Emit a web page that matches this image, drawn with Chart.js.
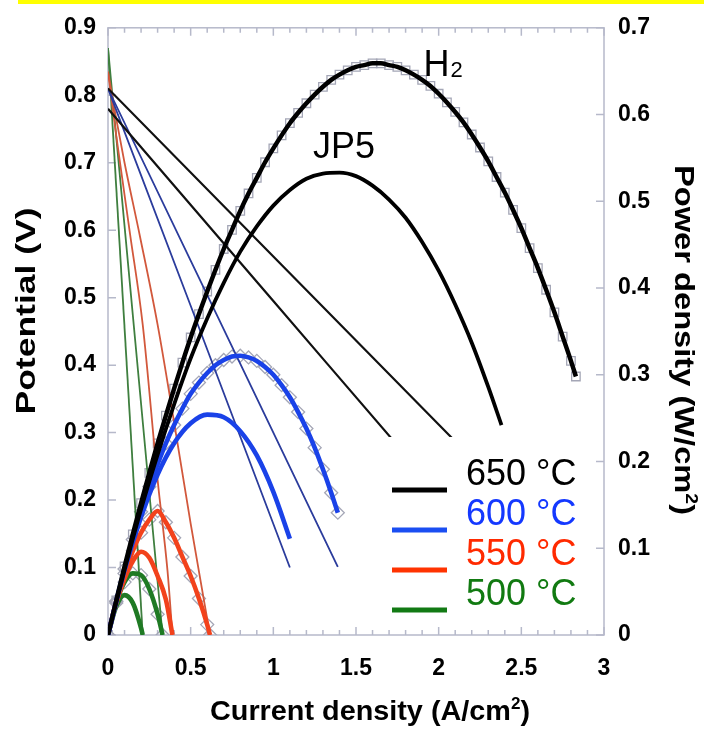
<!DOCTYPE html>
<html><head><meta charset="utf-8">
<script src="https://cdn.jsdelivr.net/npm/chart.js@4/dist/chart.umd.min.js"></script>
<style>html,body{margin:0;padding:0;background:#fff;}canvas{display:block;}</style>
</head><body>
<canvas id="c" width="704" height="729"></canvas>
<script>
// ---------- categories ----------
const temps = ['650 °C', '600 °C', '550 °C', '500 °C'];
const fuels = ['H2', 'JP5'];

// ---------- 650 °C ----------
const curH2_650 = [0,0.05,0.1,0.15,0.2,0.25,0.3,0.35,0.4,0.45,0.5,0.55,0.6,0.65,0.7,0.75,0.8,0.85,0.9,0.95,1,1.05,1.1,1.15,1.2,1.25,1.3,1.35,1.4,1.45,1.5,1.55,1.6,1.65,1.7,1.75,1.8,1.85,1.9,1.95,2,2.05,2.1,2.15,2.2,2.25,2.3,2.35,2.4,2.45,2.5,2.55,2.6,2.65,2.7,2.75,2.8,2.83];
const powH2_650 = [0,0.040,0.079,0.116,0.152,0.187,0.221,0.253,0.284,0.314,0.343,0.370,0.396,0.421,0.445,0.467,0.489,0.509,0.527,0.545,0.561,0.576,0.590,0.602,0.613,0.623,0.632,0.640,0.646,0.651,0.655,0.657,0.659,0.659,0.657,0.655,0.651,0.646,0.640,0.633,0.624,0.614,0.603,0.591,0.577,0.562,0.546,0.528,0.510,0.490,0.469,0.446,0.423,0.398,0.372,0.344,0.316,0.298];
const vcurH2_650 = [0, 1, 2, 2.83];
const potH2_650 = [0.81, 0.561, 0.312, 0.105];

const curJP5_650 = [0,0.1,0.2,0.3,0.4,0.5,0.6,0.7,0.8,0.9,1,1.1,1.2,1.3,1.4,1.5,1.6,1.7,1.8,1.9,2,2.1,2.2,2.3,2.38];
const powJP5_650 = [0,0.075,0.145,0.208,0.266,0.319,0.365,0.406,0.442,0.471,0.495,0.513,0.526,0.532,0.533,0.529,0.518,0.502,0.481,0.453,0.420,0.381,0.337,0.286,0.242];
const vcurJP5_650 = [0, 1, 2, 2.38];
const potJP5_650 = [0.78, 0.495, 0.21, 0.102];

// ---------- 600 °C ----------
const curH2_600 = [0,0.05,0.1,0.15,0.2,0.25,0.3,0.35,0.4,0.45,0.5,0.55,0.6,0.65,0.7,0.75,0.8,0.85,0.9,0.95,1,1.05,1.1,1.15,1.2,1.25,1.3,1.35,1.39];
const powH2_600 = [0,0.039,0.076,0.110,0.142,0.171,0.197,0.221,0.242,0.261,0.278,0.291,0.302,0.311,0.317,0.321,0.322,0.320,0.316,0.309,0.300,0.288,0.274,0.257,0.238,0.216,0.191,0.164,0.141];
const vcurH2_600 = [0, 0.5, 1, 1.39];
const potH2_600 = [0.81, 0.555, 0.30, 0.101];

const curJP5_600 = [0,0.1,0.2,0.3,0.4,0.5,0.6,0.7,0.8,0.9,1,1.1];
const powJP5_600 = [0,0.075,0.136,0.185,0.221,0.244,0.254,0.251,0.235,0.207,0.165,0.111];
const vcurJP5_600 = [0, 0.5, 1.1];
const potJP5_600 = [0.81, 0.488, 0.1];

// ---------- 550 °C ----------
const curH2_550 = [0,0.05,0.1,0.15,0.2,0.25,0.3,0.35,0.4,0.45,0.5,0.55,0.6,0.617];
const powH2_550 = [0,0.039,0.071,0.097,0.118,0.133,0.143,0.130,0.112,0.090,0.068,0.042,0.012,0];
const vcurH2_550 = [0, 0.05, 0.1, 0.194, 0.3, 0.4, 0.5, 0.617];
const potH2_550 = [0.835, 0.765, 0.70, 0.59, 0.46, 0.315, 0.165, 0];

const curJP5_550 = [0,0.05,0.1,0.15,0.2,0.25,0.3,0.35,0.39];
const powJP5_550 = [0,0.037,0.065,0.085,0.096,0.089,0.068,0.041,0];
const vcurJP5_550 = [0, 0.05, 0.133, 0.21, 0.3, 0.36, 0.39];
const potJP5_550 = [0.835, 0.74, 0.595, 0.46, 0.23, 0.095, 0];

// ---------- 500 °C ----------
const curH2_500 = [0,0.05,0.1,0.15,0.2,0.25,0.3,0.33];
const powH2_500 = [0,0.037,0.061,0.071,0.069,0.053,0.024,0];
const vcurH2_500 = [0, 0.165, 0.33];
const potH2_500 = [0.87, 0.435, 0];

const curJP5_500 = [0,0.05,0.1,0.15,0.2,0.21];
const powJP5_500 = [0,0.033,0.046,0.037,0.008,0];
const vcurJP5_500 = [0, 0.21];
const potJP5_500 = [0.87, 0];

// ---------- axis ticks ----------
const xTicks = [0, 0.5, 1, 1.5, 2, 2.5, 3];
const yTicks = [0, 0.1, 0.2, 0.3, 0.4, 0.5, 0.6, 0.7, 0.8, 0.9];
const y2Ticks = [0, 0.1, 0.2, 0.3, 0.4, 0.5, 0.6, 0.7];

// ---------- styles ----------
const thickColors = ['#000000', '#1a42e8', '#f2421c', '#1f7a24'];
const thinColors  = ['#111111', '#2b3c9c', '#d2583c', '#3f7f3f'];
const legendLine  = ['#000000', '#1a4ef2', '#ff3300', '#127a14'];
const legendText  = ['#000000', '#1438ff', '#ff2a00', '#117a11'];
const FONT = '"Liberation Sans", Arial, Helvetica, sans-serif';

const series = [
  {t:0, fuel:'H2',  cur:curH2_650,  pow:powH2_650,  vcur:vcurH2_650,  pot:potH2_650,  marker:'rect'},
  {t:0, fuel:'JP5', cur:curJP5_650, pow:powJP5_650, vcur:vcurJP5_650, pot:potJP5_650, marker:null},
  {t:1, fuel:'H2',  cur:curH2_600,  pow:powH2_600,  vcur:vcurH2_600,  pot:potH2_600,  marker:'rectRot'},
  {t:1, fuel:'JP5', cur:curJP5_600, pow:powJP5_600, vcur:vcurJP5_600, pot:potJP5_600, marker:null},
  {t:2, fuel:'H2',  cur:curH2_550,  pow:powH2_550,  vcur:vcurH2_550,  pot:potH2_550,  marker:'rectRot'},
  {t:2, fuel:'JP5', cur:curJP5_550, pow:powJP5_550, vcur:vcurJP5_550, pot:potJP5_550, marker:null},
  {t:3, fuel:'H2',  cur:curH2_500,  pow:powH2_500,  vcur:vcurH2_500,  pot:potH2_500,  marker:'rectRot'},
  {t:3, fuel:'JP5', cur:curJP5_500, pow:powJP5_500, vcur:vcurJP5_500, pot:potJP5_500, marker:null}
];

function pts(xs, ys) { return xs.map((x, i) => ({x: x, y: ys[i]})); }

const datasets = [];
series.forEach((s) => {
  if (s.marker) {
    datasets.push({
      label: temps[s.t] + ' ' + s.fuel + ' markers', data: pts(s.cur, s.pow), yAxisID: 'y2',
      showLine: false, pointStyle: s.marker, pointRadius: s.marker === 'rect' ? 6 : 6.5,
      pointBorderColor: '#a4a6b6', pointBackgroundColor: 'rgba(255,255,255,0)', pointBorderWidth: 1.3,
      order: 30
    });
  }
  datasets.push({
    label: temps[s.t] + ' ' + s.fuel + ' potential', data: pts(s.vcur, s.pot), yAxisID: 'y',
    showLine: true, borderColor: thinColors[s.t], borderWidth: s.t === 0 ? 2.2 : 1.8,
    pointRadius: 0, cubicInterpolationMode: 'monotone', order: 20 + s.t
  });
  datasets.push({
    label: temps[s.t] + ' ' + s.fuel + ' power', data: pts(s.cur, s.pow), yAxisID: 'y2',
    showLine: true, borderColor: thickColors[s.t],
    borderWidth: s.t === 0 ? (s.fuel === 'H2' ? 4.5 : 3.8) : 4.6,
    pointRadius: 0, cubicInterpolationMode: 'monotone',
    order: s.t === 0 ? (s.fuel === 'H2' ? 0 : 1) : 2 + s.t
  });
});

const frame = {
  id: 'frame',
  beforeDatasetsDraw(chart) {
    const ctx = chart.ctx, a = chart.chartArea;
    const xs = chart.scales.x, ys = chart.scales.y, y2 = chart.scales.y2;
    ctx.save();
    ctx.strokeStyle = '#b6b9ca';
    ctx.lineWidth = 1.5;
    ctx.strokeRect(a.left, a.top, a.right - a.left, a.bottom - a.top);
    ctx.beginPath();
    for (let k = 0; k <= 30; k++) {
      const px = xs.getPixelForValue(k / 10);
      const len = (k % 5 === 0) ? 8 : 5;
      ctx.moveTo(px, a.bottom); ctx.lineTo(px, a.bottom - len);
      ctx.moveTo(px, a.top); ctx.lineTo(px, a.top + len);
    }
    yTicks.forEach(v => { const py = ys.getPixelForValue(v); ctx.moveTo(a.left, py); ctx.lineTo(a.left + 8, py); });
    y2Ticks.forEach(v => { const py = y2.getPixelForValue(v); ctx.moveTo(a.right, py); ctx.lineTo(a.right - 8, py); });
    ctx.stroke();
    ctx.restore();
  },
  afterDatasetsDraw(chart) {
    const ctx = chart.ctx;
    ctx.save();
    // legend box
    ctx.fillStyle = '#ffffff';
    ctx.fillRect(386, 437, 206, 185);
    temps.forEach((t, i) => {
      const base = 485 + i * 40;
      ctx.strokeStyle = legendLine[i];
      ctx.lineWidth = 5;
      ctx.beginPath(); ctx.moveTo(392, base + 5); ctx.lineTo(447, base + 5); ctx.stroke();
      ctx.fillStyle = legendText[i];
      ctx.font = '36px ' + FONT;
      ctx.textAlign = 'left'; ctx.textBaseline = 'alphabetic';
      ctx.fillText(t, 466, base);
    });
    // curve labels
    const xs = chart.scales.x, y2 = chart.scales.y2;
    ctx.fillStyle = '#000';
    ctx.font = '36px ' + FONT;
    const hx = xs.getPixelForValue(1.908), hy = y2.getPixelForValue(0.645);
    ctx.fillText('H', hx, hy);
    const hw = ctx.measureText('H').width;
    ctx.font = '22px ' + FONT;
    ctx.fillText('2', hx + hw + 1, hy + 1);
    ctx.font = '36px ' + FONT;
    ctx.fillText('JP5', xs.getPixelForValue(1.24), y2.getPixelForValue(0.55));
    ctx.restore();
  },
  afterDraw(chart) {
    const ctx = chart.ctx;
    ctx.save();
    ctx.fillStyle = '#ffff00';
    ctx.fillRect(18, 0, 686, 4);
    const big = 'bold 27px ' + FONT, sup = 'bold 16px ' + FONT;
    drawStretched(ctx, [{t:'Potential (V)', f:big, dy:0}], 35, 311, -Math.PI / 2, 207);
    drawStretched(ctx, [{t:'Power density (W/cm', f:big, dy:0}, {t:'2', f:sup, dy:-11}, {t:')', f:big, dy:0}], 675, 340, Math.PI / 2, 350);
    drawStretched(ctx, [{t:'Current density (A/cm', f:big, dy:0}, {t:'2', f:sup, dy:-11}, {t:')', f:big, dy:0}], 370, 720, 0, 320);
    ctx.restore();
  }
};

function drawStretched(ctx, segs, cx, cy, rot, targetLen) {
  ctx.save();
  let w = 0;
  segs.forEach(s => { ctx.font = s.f; s.w = ctx.measureText(s.t).width; w += s.w; });
  const k = targetLen / w;
  ctx.translate(cx, cy); ctx.rotate(rot); ctx.scale(k, 1);
  ctx.fillStyle = '#000'; ctx.textAlign = 'left'; ctx.textBaseline = 'alphabetic';
  let x = -w / 2;
  segs.forEach(s => { ctx.font = s.f; ctx.fillText(s.t, x, s.dy); x += s.w; });
  ctx.restore();
}

const fmt = (v) => String(Math.round(v * 10) / 10);
const tickFont = {family: FONT, size: 23, weight: 'bold'};
new Chart(document.getElementById('c'), {
  type: 'scatter',
  data: {datasets: datasets},
  options: {
    responsive: false, animation: false, devicePixelRatio: 1,
    layout: {padding: {top: 22, left: 0, right: 0, bottom: 0}},
    plugins: {legend: {display: false}, tooltip: {enabled: false}},
    scales: {
      x: {
        type: 'linear', position: 'bottom', min: 0, max: 3,
        grid: {display: false, drawTicks: false}, border: {display: false},
        ticks: {stepSize: 0.5, color: '#000', font: tickFont, padding: 20, maxRotation: 0, autoSkip: false, callback: fmt},
        afterFit(s) { s.height = 94; }
      },
      y: {
        type: 'linear', position: 'left', min: 0, max: 0.9,
        grid: {display: false, drawTicks: false}, border: {display: false},
        ticks: {stepSize: 0.1, color: '#000', font: tickFont, padding: 12, callback: fmt},
        afterFit(s) { s.width = 108; }
      },
      y2: {
        type: 'linear', position: 'right', min: 0, max: 0.7,
        grid: {display: false, drawTicks: false}, border: {display: false},
        ticks: {stepSize: 0.1, color: '#000', font: tickFont, padding: 14, callback: fmt},
        afterFit(s) { s.width = 100; }
      }
    }
  },
  plugins: [frame]
});
</script>
</body></html>
